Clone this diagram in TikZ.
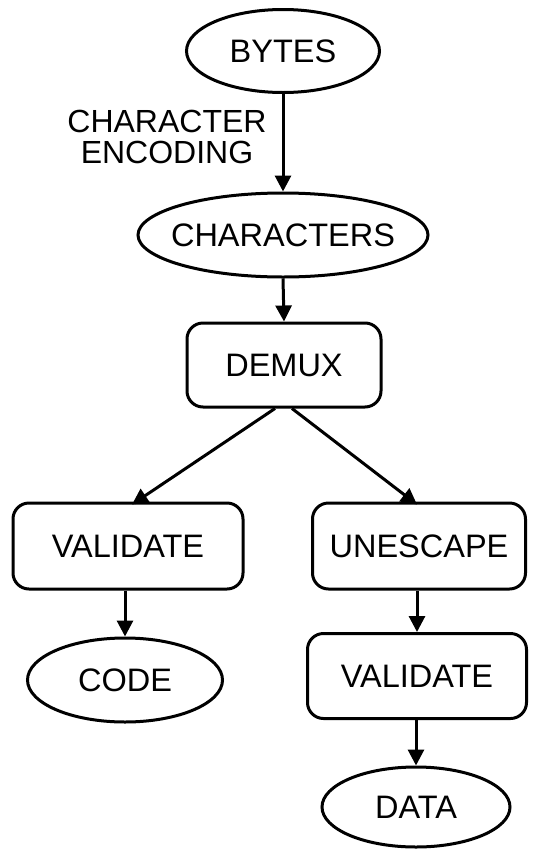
\documentclass[tikz,border=0pt]{standalone}
\usepackage{fontspec}
\setmainfont{Liberation Sans}
\usetikzlibrary{shapes.geometric,arrows.meta}
\tikzset{
  base/.style={draw=black, line width=3pt, inner sep=0pt, font=\fontsize{32.5}{31}\selectfont, text=black},
  oval/.style={base, ellipse},
  rbox/.style={base, rectangle, rounded corners=16pt},
  arr/.style={line width=3pt, -{Triangle[length=16pt,width=16pt]}},
  lbl/.style={font=\fontsize{32}{31}\selectfont, align=center, inner sep=0pt}
}
\begin{document}
\begin{tikzpicture}[x=1pt,y=-1pt]
\useasboundingbox (0,0) rectangle (538,849);
\node[oval, minimum width=193pt, minimum height=83pt] (bytes) at (283,51) {\makebox[0pt]{BYTES}};
\node[oval, minimum width=290pt, minimum height=84pt] (chars) at (283,235) {\makebox[0pt]{CHARACTERS}};
\node[rbox, minimum width=194pt, minimum height=84pt] (demux) at (284,365) {DEMUX};
\node[rbox, minimum width=230pt, minimum height=86pt] (val1) at (128,546) {VALIDATE};
\node[rbox, minimum width=213pt, minimum height=86pt] (unesc) at (419,546) {UNESCAPE};
\node[oval, minimum width=195pt, minimum height=84pt] (code) at (125,680) {\makebox[0pt]{CODE}};
\node[rbox, minimum width=219pt, minimum height=85pt] (val2) at (417,676) {VALIDATE};
\node[oval, minimum width=188pt, minimum height=80pt] (data) at (416,807) {\makebox[0pt]{DATA}};
\node[lbl] (enc) at (167,137) {CHARACTER\\ENCODING};
\draw[arr] (bytes.south) -- (chars.north);
\draw[arr] (chars.south) -- (demux.north);
\draw[arr] ([xshift=-9pt]demux.south) -- ([xshift=4pt,yshift=-3pt]val1.north);
\draw[arr] ([xshift=8pt]demux.south) -- ([xshift=-2pt,yshift=-3pt]unesc.north);
\draw[arr] (code.north |- val1.south) -- (code.north);
\draw[arr] (val2.north |- unesc.south) -- (val2.north);
\draw[arr] (data.north |- val2.south) -- (data.north);
\end{tikzpicture}
\end{document}
